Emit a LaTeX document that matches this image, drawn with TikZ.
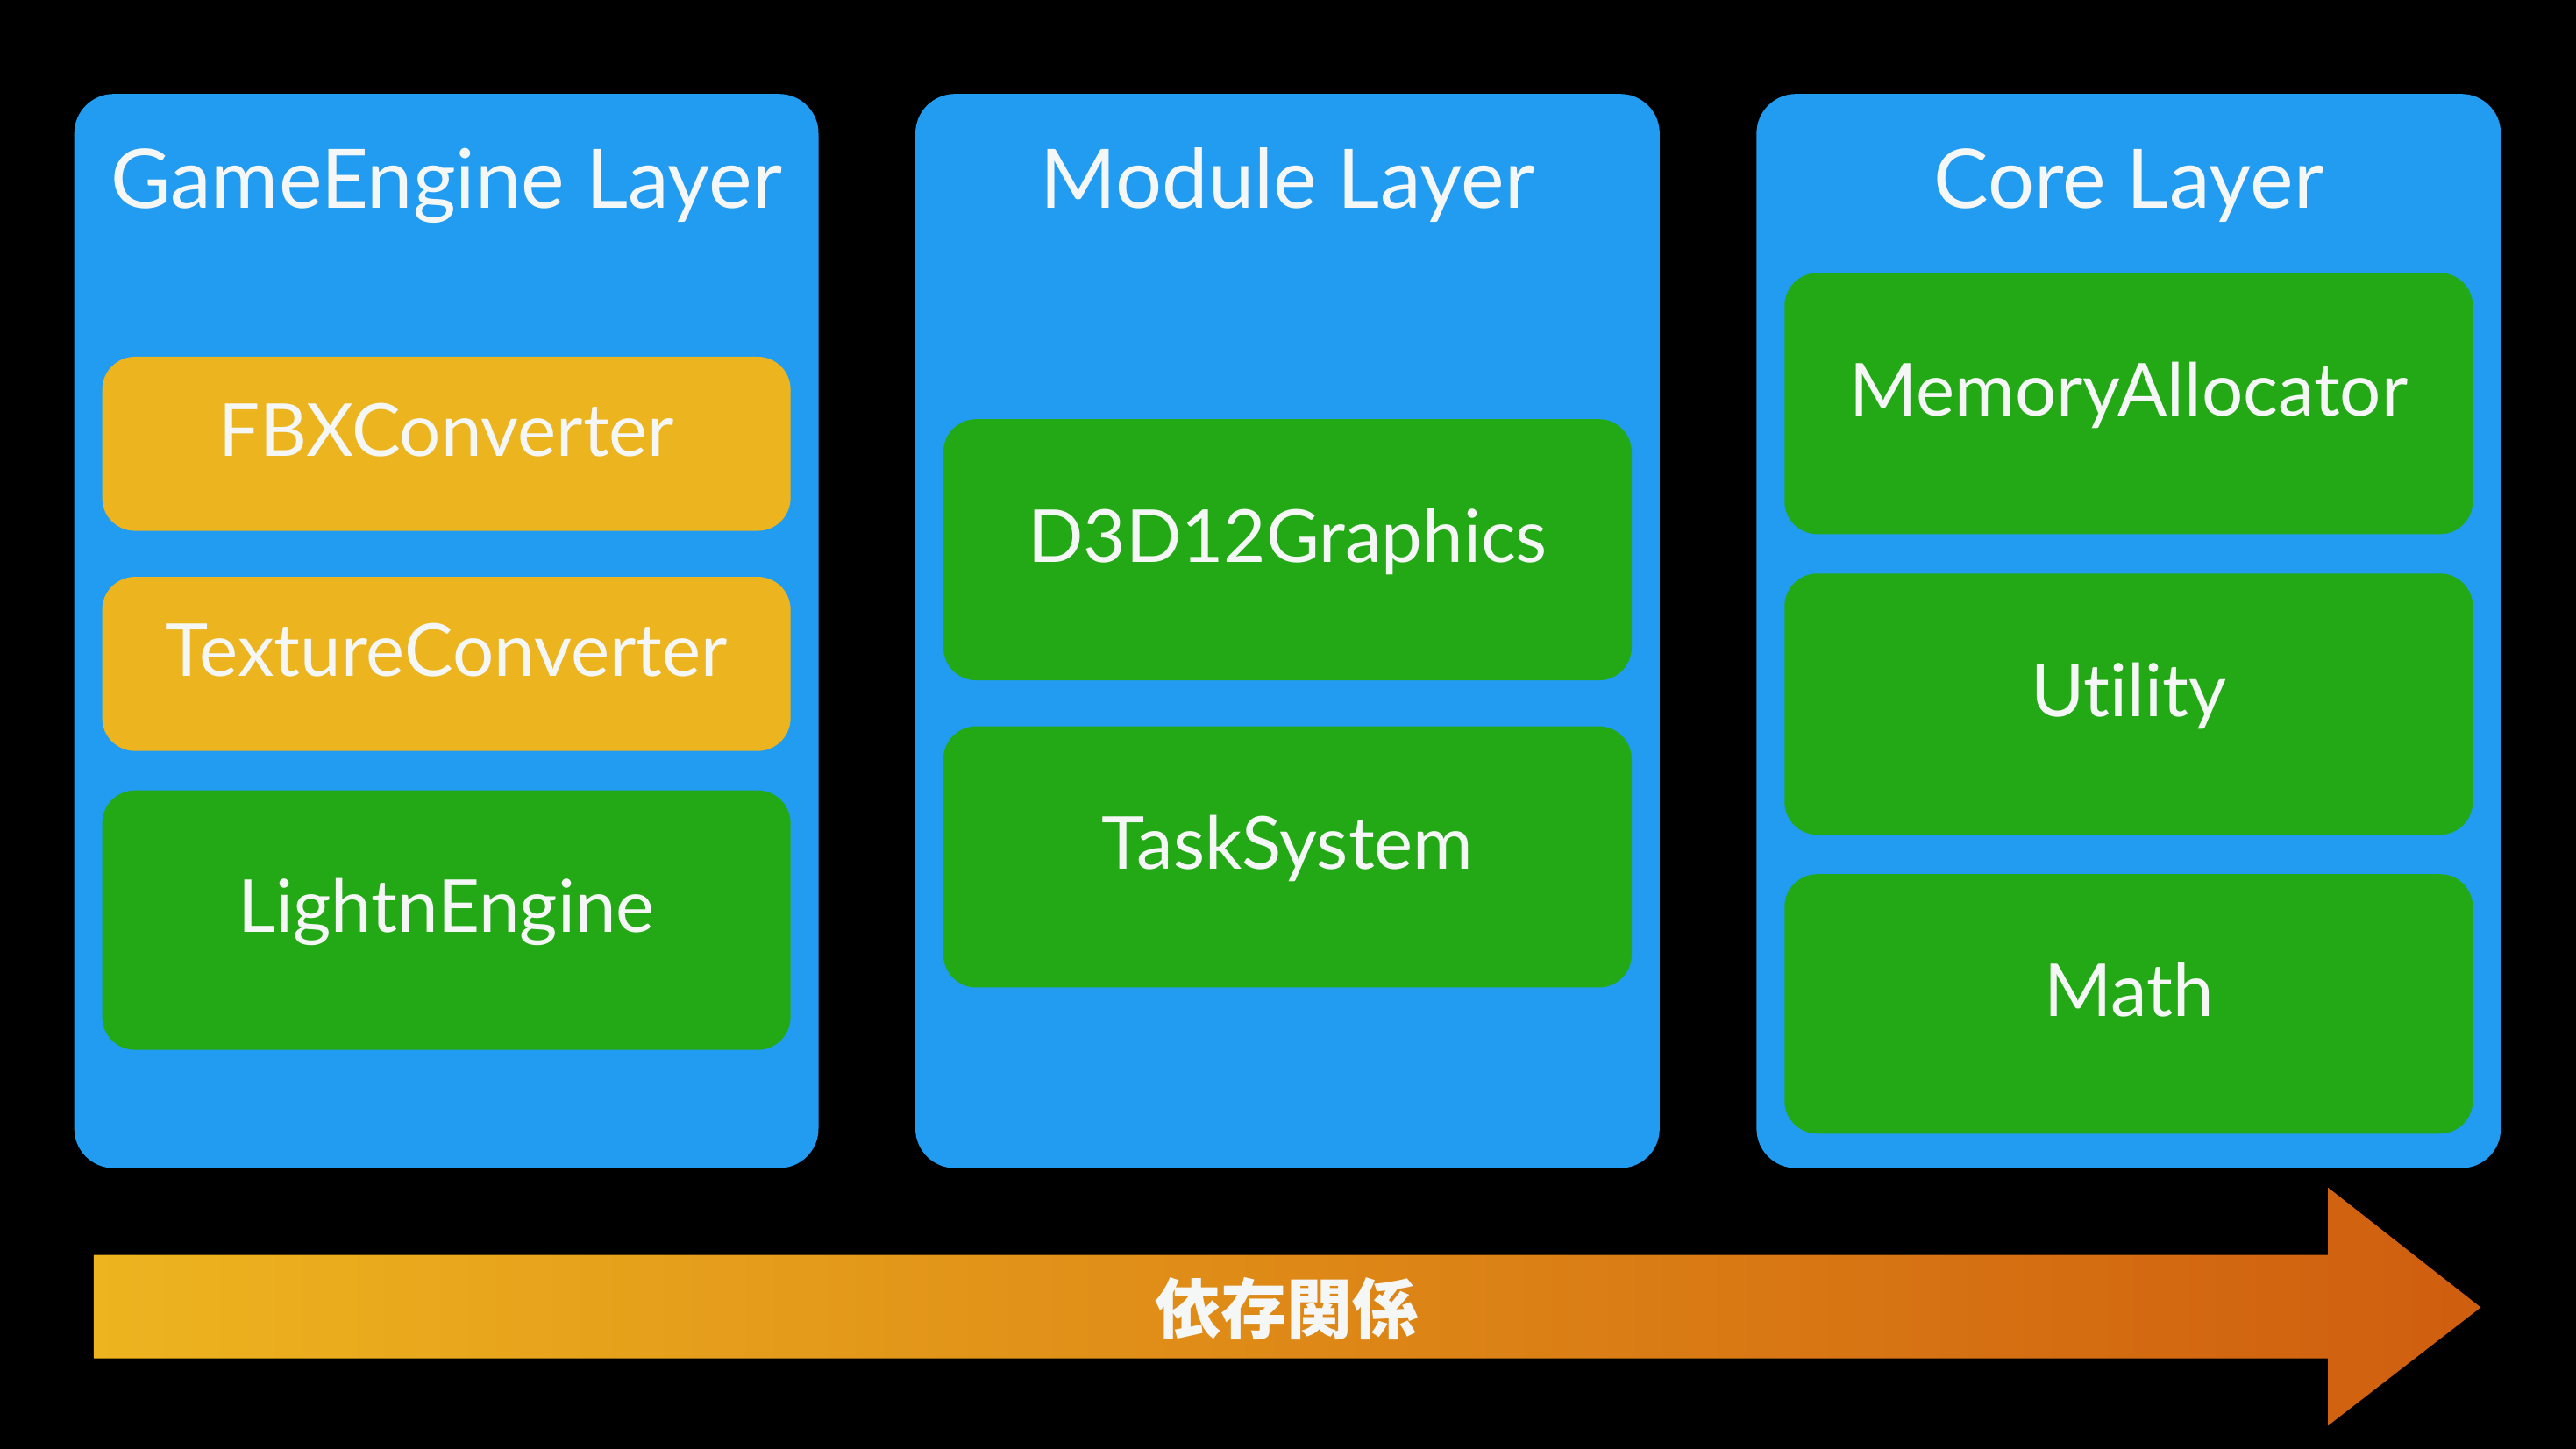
\documentclass[tikz,border=0pt]{standalone}
\usepackage{fontspec}
\setmainfont{Lato}[Ligatures=NoCommon]
\newfontfamily\cjk{Noto Sans CJK JP}
\definecolor{panelblue}{HTML}{219CF0}
\definecolor{boxgreen}{HTML}{24A916}
\definecolor{boxorange}{HTML}{ECB41F}
\definecolor{txtwhite}{HTML}{F5F7F7}
\definecolor{arrowL}{HTML}{EDB41F}
\definecolor{arrowR}{HTML}{CF5E0F}
\begin{document}
\begin{tikzpicture}[x=1pt,y=-1pt,
  panel/.style={fill=panelblue, rounded corners=24pt, minimum width=453pt, minimum height=654pt, anchor=north west, inner sep=0pt},
  title/.style={text=txtwhite, font=\fontsize{50}{54}\selectfont, anchor=base, inner sep=0pt},
  box/.style={rounded corners=20pt, minimum width=419pt, anchor=north west, inner sep=0pt, text=txtwhite, font=\fontsize{44.5}{48}\selectfont, text height=30pt, text depth=15pt},
  gbox/.style={box, fill=boxgreen, minimum height=159pt},
  obox/.style={box, fill=boxorange, minimum height=106pt},
]
\fill[black] (0,0) rectangle (1568,882);
\useasboundingbox (0,0) rectangle (1568,882);

% panels
\node[panel] (p1) at (45,57) {};
\node[panel] (p2) at (557,57) {};
\node[panel] (p3) at (1069,57) {};

\node[title] (t1) at ([yshift=-70pt]p1.north) {GameEngine Layer};
\node[title] (t2) at ([yshift=-70pt]p2.north) {Module Layer};
\node[title] (t3) at ([yshift=-70pt]p3.north) {Core Layer};

% GameEngine layer
\node[obox] (fbx) at (62,217) {FBXConverter};
\node[obox] (tex) at (62,351) {TextureConverter};
\node[gbox, minimum height=158pt] (light) at (62,481) {LightnEngine};

% Module layer
\node[gbox] (d3d) at (574,255) {D3D12Graphics};
\node[gbox] (task) at (574,442) {TaskSystem};

% Core layer
\node[gbox] (mem) at (1086,166) {MemoryAllocator};
\node[gbox] (util) at (1086,349) {Utility};
\node[gbox, minimum height=158pt] (math) at (1086,532) {Math};

% dependency arrow
\fill[left color=arrowL, right color=arrowR]
  (57,764) -- (1417,764) -- (1417,723) -- (1510,796) -- (1417,868) -- (1417,827) -- (57,827) -- cycle;
\node[text=txtwhite, font=\cjk\fontsize{40}{44}\selectfont\bfseries, inner sep=0pt] (dep) at (783,797) {依存関係};
\end{tikzpicture}
\end{document}
